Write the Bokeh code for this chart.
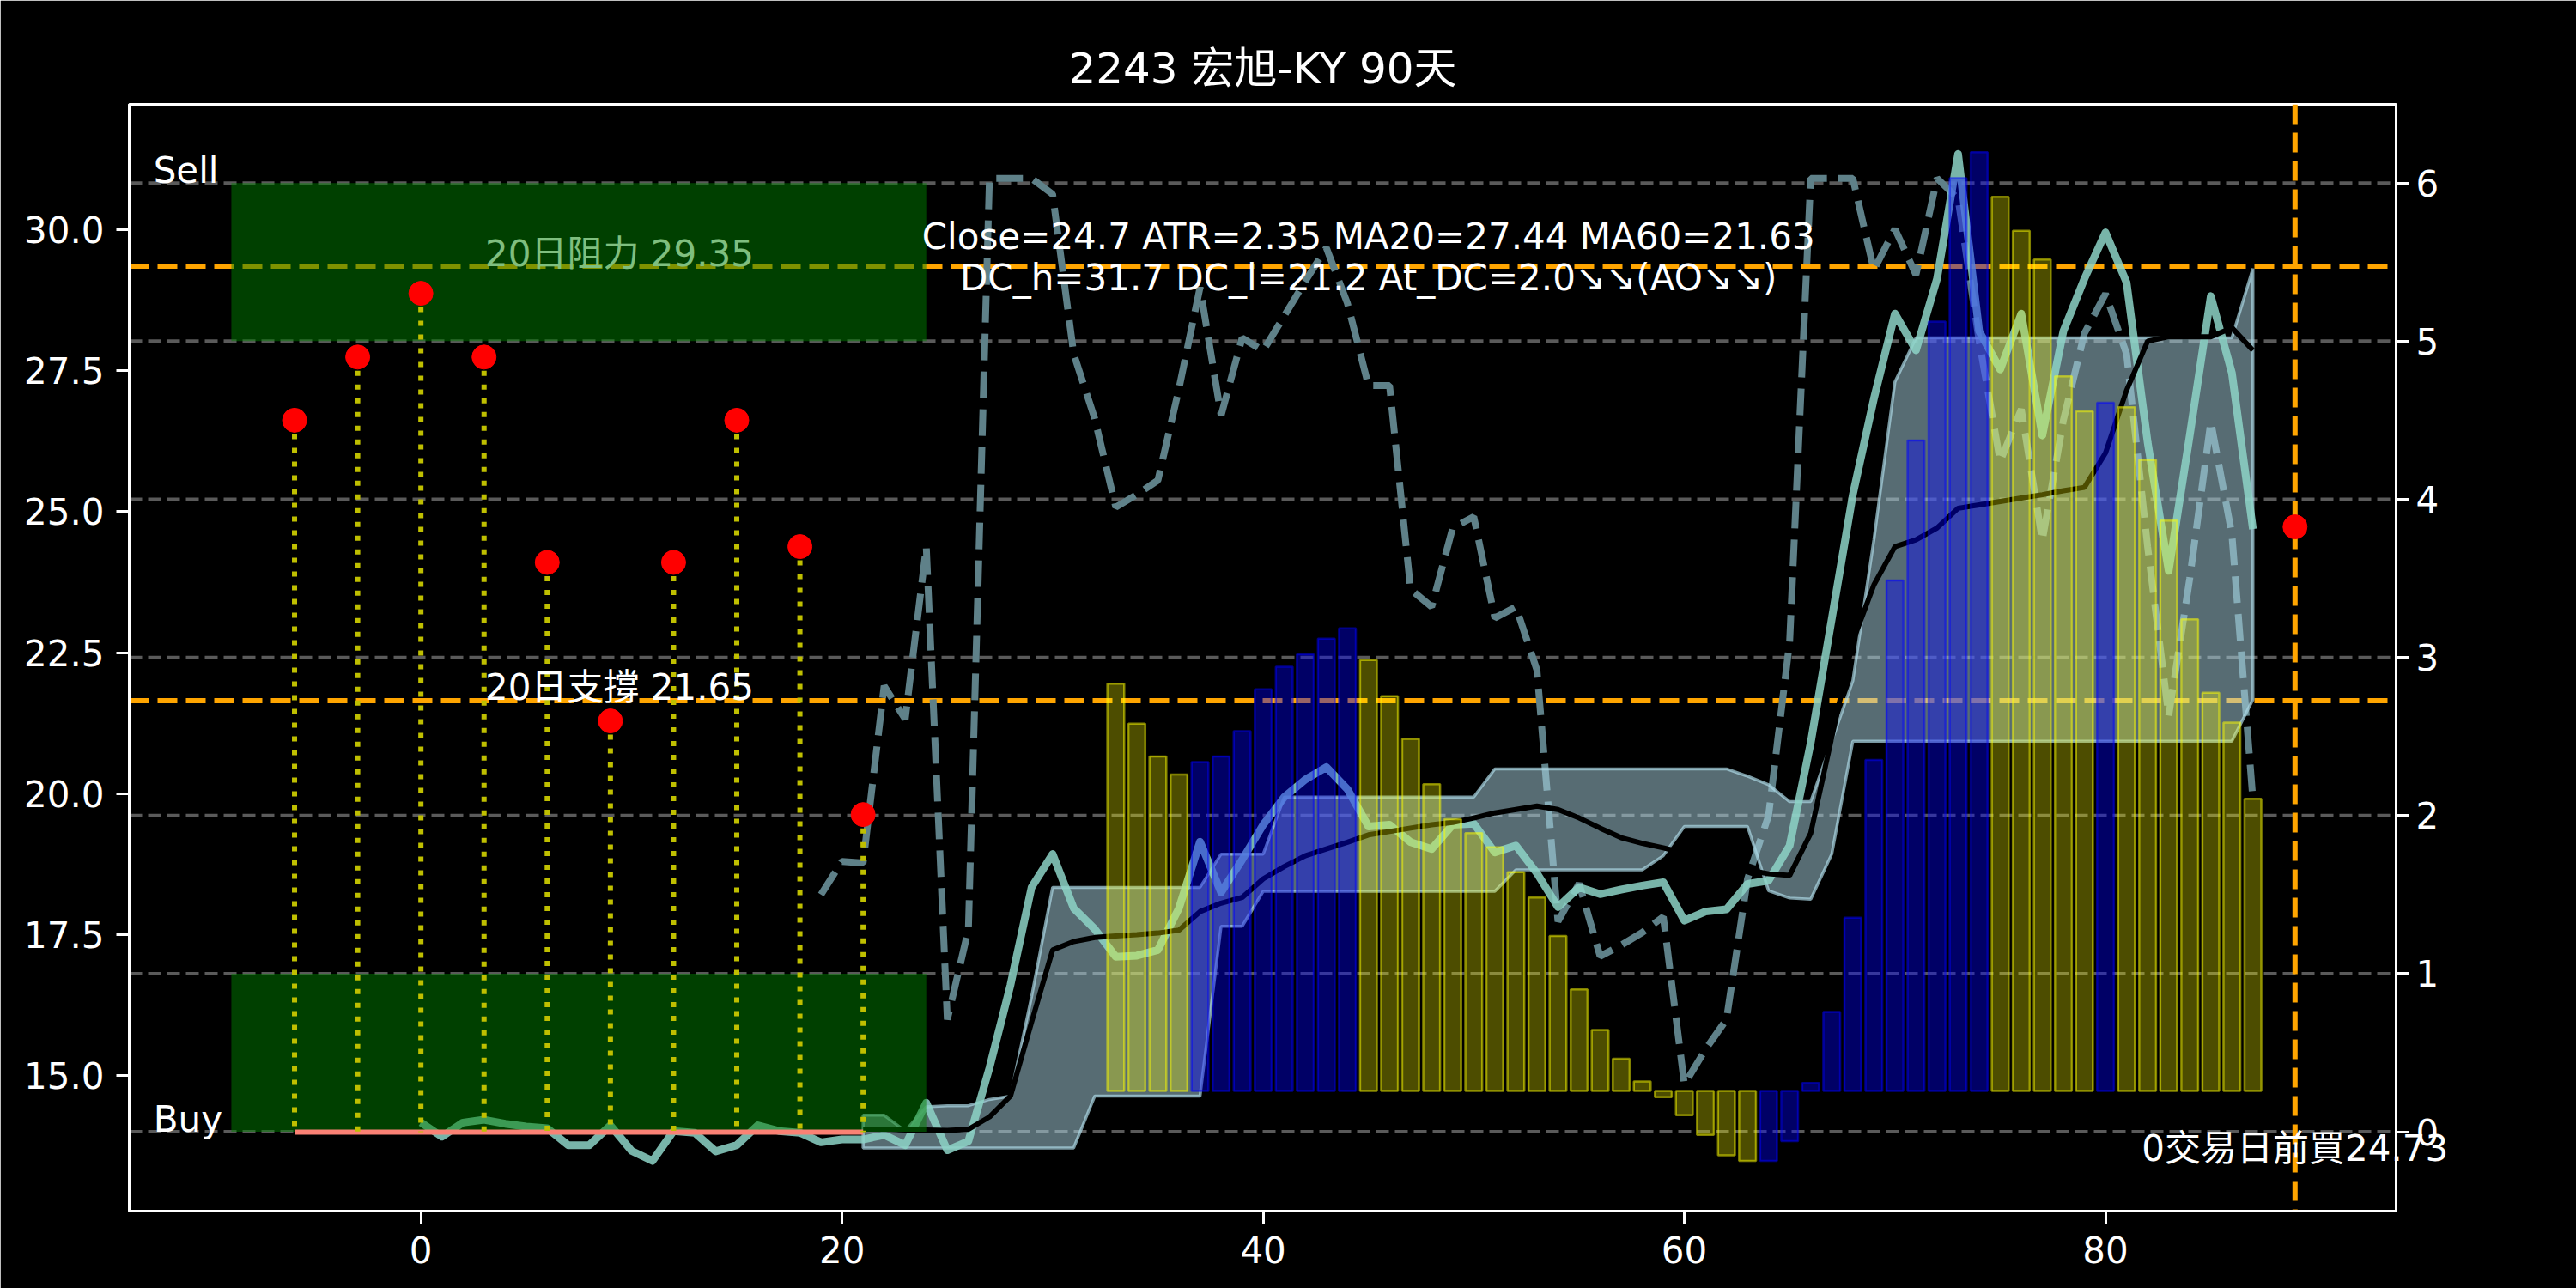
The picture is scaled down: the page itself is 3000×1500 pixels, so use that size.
from bokeh.plotting import figure
from bokeh.models import Range1d, LinearAxis, FixedTicker, NumeralTickFormatter, Span
from bokeh.core.properties import value
from bokeh.embed import file_html
from bokeh.resources import INLINE

TITLE = "2243 宏旭-KY 90天"

# ---- price (close) line, x = 0..87 ----
close_x = list(range(0, 88))
close = [14.17, 13.92, 14.17, 14.22, 14.15, 14.10, 14.07, 13.77, 13.77, 14.12,
         13.67, 13.49, 14.02, 13.99, 13.66, 13.77, 14.12, 14.02, 13.99, 13.82,
         13.87, 13.87, 13.95, 13.77, 14.52, 13.68, 13.84, 15.14, 16.61, 18.34,
         18.93, 17.97, 17.60, 17.11, 17.13, 17.23, 17.97, 19.15, 18.25, 18.83,
         19.45, 19.94, 20.25, 20.47, 20.08, 19.42, 19.45, 19.14, 19.02, 19.45,
         19.47, 18.96, 19.08, 18.59, 17.99, 18.34, 18.22, 18.30, 18.37, 18.43,
         17.75, 17.91, 17.95, 18.40, 18.46, 19.08, 20.90, 23.10, 25.30, 27.00,
         28.51, 27.86, 29.13, 31.34, 28.20, 27.52, 28.51, 26.35, 28.20, 29.13,
         29.95, 29.06, 26.23, 23.95, 26.35, 28.82, 27.46, 24.69]

# ---- moving average (black), x = 21..87 ----
ma_x = list(range(21, 88))
ma = [14.05, 14.05, 14.04, 14.04, 14.03, 14.05, 14.27, 14.64, 15.95, 17.23,
      17.38, 17.45, 17.48, 17.50, 17.53, 17.58, 17.91, 18.06, 18.16, 18.49,
      18.71, 18.90, 19.02, 19.14, 19.27, 19.33, 19.39, 19.45, 19.49, 19.57,
      19.66, 19.72, 19.78, 19.72, 19.57, 19.39, 19.22, 19.12, 19.04, 18.95,
      18.85, 18.75, 18.65, 18.58, 18.55, 19.30, 21.00, 22.70, 23.70, 24.38,
      24.50, 24.71, 25.06, 25.12, 25.18, 25.24, 25.30, 25.37, 25.43, 26.04,
      27.15, 28.02, 28.10, 28.10, 28.10, 28.26, 27.86]

# ---- channel band, x = 21..87 ----
band_x = list(range(21, 88))
band_hi = [14.30, 14.30, 14.02, 14.45, 14.47, 14.47, 14.58, 14.64, 16.40, 18.34,
           18.34, 18.34, 18.34, 18.34, 18.34, 18.34, 18.34, 18.93, 18.93, 18.93,
           19.94, 19.94, 19.94, 19.94, 19.94, 19.94, 19.94, 19.94, 19.94, 19.94,
           20.44, 20.44, 20.44, 20.44, 20.44, 20.44, 20.44, 20.44, 20.44, 20.44,
           20.44, 20.44, 20.31, 20.16, 19.86, 19.86, 20.93, 22.00, 24.50, 27.30,
           28.08, 28.08, 28.08, 28.08, 28.08, 28.08, 28.08, 28.08, 28.08, 28.08,
           28.08, 28.08, 28.08, 28.08, 28.08, 28.08, 29.31]
band_lo = [13.72, 13.72, 13.72, 13.72, 13.72, 13.72, 13.72, 13.72, 13.72, 13.72,
           13.72, 14.64, 14.64, 14.64, 14.64, 14.64, 14.64, 17.65, 17.65, 18.27,
           18.27, 18.27, 18.27, 18.27, 18.27, 18.27, 18.27, 18.27, 18.27, 18.27,
           18.27, 18.65, 18.65, 18.65, 18.65, 18.65, 18.65, 18.65, 18.90, 19.42,
           19.42, 19.42, 19.42, 18.28, 18.15, 18.13, 18.93, 20.93, 20.93, 20.93,
           20.93, 20.93, 20.93, 20.93, 20.93, 20.93, 20.93, 20.93, 20.93, 20.93,
           20.93, 20.93, 20.93, 20.93, 20.93, 20.93, 21.67]

# ---- dashed indicator on the right axis, x = 19..87 ----
atr_x = list(range(19, 88))
atr = [1.50, 1.71, 1.70, 2.82, 2.61, 3.70, 0.71, 1.28, 6.03, 6.03,
       6.03, 5.93, 4.92, 4.51, 3.95, 4.03, 4.12, 4.70, 5.34, 4.53,
       5.02, 4.94, 5.16, 5.38, 5.59, 5.24, 4.72, 4.72, 3.43, 3.32,
       3.82, 3.89, 3.25, 3.32, 2.92, 1.33, 1.57, 1.11, 1.18, 1.26,
       1.36, 0.30, 0.52, 0.71, 1.60, 2.00, 3.10, 6.03, 6.03, 6.03,
       5.45, 5.71, 5.42, 6.03, 5.90, 5.00, 4.24, 4.57, 3.74, 4.50,
       5.05, 5.30, 4.92, 3.70, 2.63, 3.50, 4.49, 3.78, 2.10]

# ---- oscillator histogram, x = 33..87 (tops, drawn from a base level) ----
ao_x = list(range(33, 88))
ao_top = [21.95, 21.24, 20.66, 20.34, 20.56, 20.66, 21.11, 21.85, 22.25, 22.47,
          22.75, 22.93, 22.37, 21.73, 20.97, 20.17, 19.55, 19.30, 19.05, 18.61,
          18.16, 17.48, 16.53, 15.81, 15.30, 14.90, 14.62, 14.30, 13.95, 13.59,
          13.49, 13.49, 13.84, 14.87, 16.13, 17.80, 20.60, 23.78, 26.26, 28.37,
          30.91, 31.37, 30.58, 29.98, 29.47, 27.40, 26.78, 26.93, 26.85, 25.92,
          24.84, 23.09, 21.79, 21.26, 19.91]
ao_rising = [0, 0, 0, 0, 1, 1, 1, 1, 1, 1,
             1, 1, 0, 0, 0, 0, 0, 0, 0, 0,
             0, 0, 0, 0, 0, 0, 0, 0, 0, 0,
             0, 1, 1, 1, 1, 1, 1, 1, 1, 1,
             1, 1, 0, 0, 0, 0, 0, 1, 0, 0,
             0, 0, 0, 0, 0]
ao_base = 14.73

# ---- signal points ----
sig_x = [-6, -3, 0, 3, 6, 9, 12, 15, 18, 21]
sig_y = [26.62, 27.74, 28.87, 27.74, 24.10, 21.29, 24.10, 26.62, 24.38, 19.63]
entry_y = 14.0

resist = 29.35
support = 21.65
last_x = 89
last_price = 24.73
days_before = 0
zone_left, zone_right = -9, 24
sell_zone = (5, 6)
buy_zone = (0, 1)

info_close, info_atr, info_ma20, info_ma60 = 24.7, 2.35, 27.44, 21.63
info_dch, info_dcl, info_atdc = 31.7, 21.2, 2.0

left_ticks = [15.0, 17.5, 20.0, 22.5, 25.0, 27.5, 30.0]
right_ticks = [0, 1, 2, 3, 4, 5, 6]
x_ticks = [0, 20, 40, 60, 80]

FONT = "DejaVu Sans, Noto Sans CJK TC"
FS = "42px"
YOFF = -15

p = figure(width=3000, height=1500, output_backend="svg", toolbar_location=None,
           x_range=Range1d(-13.85, 93.8), y_range=Range1d(12.60, 32.22),
           background_fill_color="black", border_fill_color="black",
           min_border_left=150, min_border_right=210, min_border_top=121, min_border_bottom=90)
p.extra_y_ranges = {"right": Range1d(-0.502, 6.498)}
p.add_layout(LinearAxis(y_range_name="right"), "right")

p.title.text = TITLE
p.title.align = "center"
p.title.text_color = "white"
p.title.text_font_size = "50px"
p.title.text_font = FONT
p.title.text_font_style = "normal"
p.title.standoff = 26

p.outline_line_color = "white"
p.outline_line_width = 3
p.xgrid.visible = False
p.ygrid.visible = False

for ax in [p.xaxis[0], p.yaxis[0], p.yaxis[1]]:
    ax.axis_line_color = "white"
    ax.axis_line_width = 3
    ax.major_tick_line_color = "white"
    ax.major_tick_line_width = 3
    ax.major_tick_out = 15
    ax.major_tick_in = 0
    ax.minor_tick_line_color = None
    ax.major_label_text_color = "white"
    ax.major_label_text_font_size = FS
    ax.major_label_text_font = "DejaVu Sans"
    ax.major_label_standoff = 14
p.yaxis[1].major_label_standoff = 8

p.xaxis[0].ticker = FixedTicker(ticks=x_ticks)
p.xaxis[0].formatter = NumeralTickFormatter(format="0")
p.yaxis[0].ticker = FixedTicker(ticks=left_ticks)
p.yaxis[0].formatter = NumeralTickFormatter(format="0.0")
p.yaxis[1].ticker = FixedTicker(ticks=right_ticks)
p.yaxis[1].formatter = NumeralTickFormatter(format="0")

# grid lines tied to the right axis
for v in right_ticks:
    p.add_layout(Span(location=v, dimension="width", y_range_name="right",
                      line_color="#5a5a5a", line_width=4, line_dash="15 7", level="underlay"))

# support / resistance and last-day markers
for v in [resist, support]:
    p.add_layout(Span(location=v, dimension="width", line_color="orange",
                      line_width=6, line_dash="23 10", level="underlay"))
p.add_layout(Span(location=last_x, dimension="height", line_color="orange",
                  line_width=6, line_dash="23 10", level="underlay"))

# dashed indicator (right axis)
p.line(atr_x, atr, y_range_name="right", line_color="#5f8189", line_width=8,
       line_dash="31 13")

# channel band
poly_x = band_x + band_x[::-1]
poly_y = band_hi + band_lo[::-1]
p.patch(poly_x, poly_y, fill_color="lightblue", fill_alpha=0.5,
        line_color="lightblue", line_alpha=0.7, line_width=3.5)

# close and MA
p.line(close_x, close, line_color="#8dd3c7", line_alpha=0.85, line_width=9, line_join="round")
p.line(ma_x, ma, line_color="black", line_width=6)

# histogram
fills = ["blue" if r else "yellow" for r in ao_rising]
falpha = [0.4 if r else 0.3 for r in ao_rising]
p.vbar(x=ao_x, width=0.8, top=ao_top, bottom=ao_base, fill_color=fills, fill_alpha=falpha,
       line_color=fills, line_alpha=0.5, line_width=2.5)

# labels under the green zones
p.text(x=[3.05], y=[resist], text=[f"20日阻力 {resist:.2f}"], text_color="white",
       text_font=value(FONT), text_font_size=FS, text_align="left",
       text_baseline="alphabetic", y_offset=YOFF)

# buy / sell zones
p.quad(left=zone_left, right=zone_right, bottom=[buy_zone[0], sell_zone[0]],
       top=[buy_zone[1], sell_zone[1]], y_range_name="right",
       fill_color="green", fill_alpha=0.5, line_color=None)

# entry line and signal stems
p.line([sig_x[0], sig_x[-1]], [entry_y, entry_y], line_color="#fa8174", line_width=6)
p.segment(x0=sig_x, y0=sig_y, x1=sig_x, y1=[entry_y] * len(sig_x), line_color="#bfbf00",
          line_width=6, line_dash="6 10")
p.scatter(sig_x, sig_y, size=28, fill_color="red", line_color="red")
p.scatter([last_x], [last_price], size=28, fill_color="red", line_color="red")

p.text(x=[3.05], y=[support], text=[f"20日支撐 {support:.2f}"], text_color="white",
       text_font=value(FONT), text_font_size=FS, text_align="left",
       text_baseline="alphabetic", y_offset=YOFF)
p.text(x=[-12.7, -12.7], y=[sell_zone[1], buy_zone[0]], y_range_name="right",
       text=["Sell", "Buy"], text_color="white", text_font=value("DejaVu Sans"),
       text_font_size=FS, text_align="left", text_baseline="alphabetic", y_offset=YOFF)

line1 = f"Close={info_close} ATR={info_atr} MA20={info_ma20} MA60={info_ma60}"
line2 = f"DC_h={info_dch} DC_l={info_dcl} At_DC={info_atdc}↘↘(AO↘↘)"
p.text(x=[45, 45], y=[5.58, 5.32], y_range_name="right", text=[line1, line2],
       text_color="white", text_font=value("DejaVu Sans"), text_font_size=FS,
       text_align="center", text_baseline="alphabetic", y_offset=YOFF)

# drawn at overlay level so it may run past the frame edge, as in the original
p.text(x=[last_x], y=[13.48], text=[f"{days_before}交易日前買{last_price}"], text_color="white",
       text_font=value(FONT), text_font_size=FS, text_align="center",
       text_baseline="alphabetic", y_offset=YOFF, level="overlay")

open("out.html", "w").write(file_html(p, INLINE))
